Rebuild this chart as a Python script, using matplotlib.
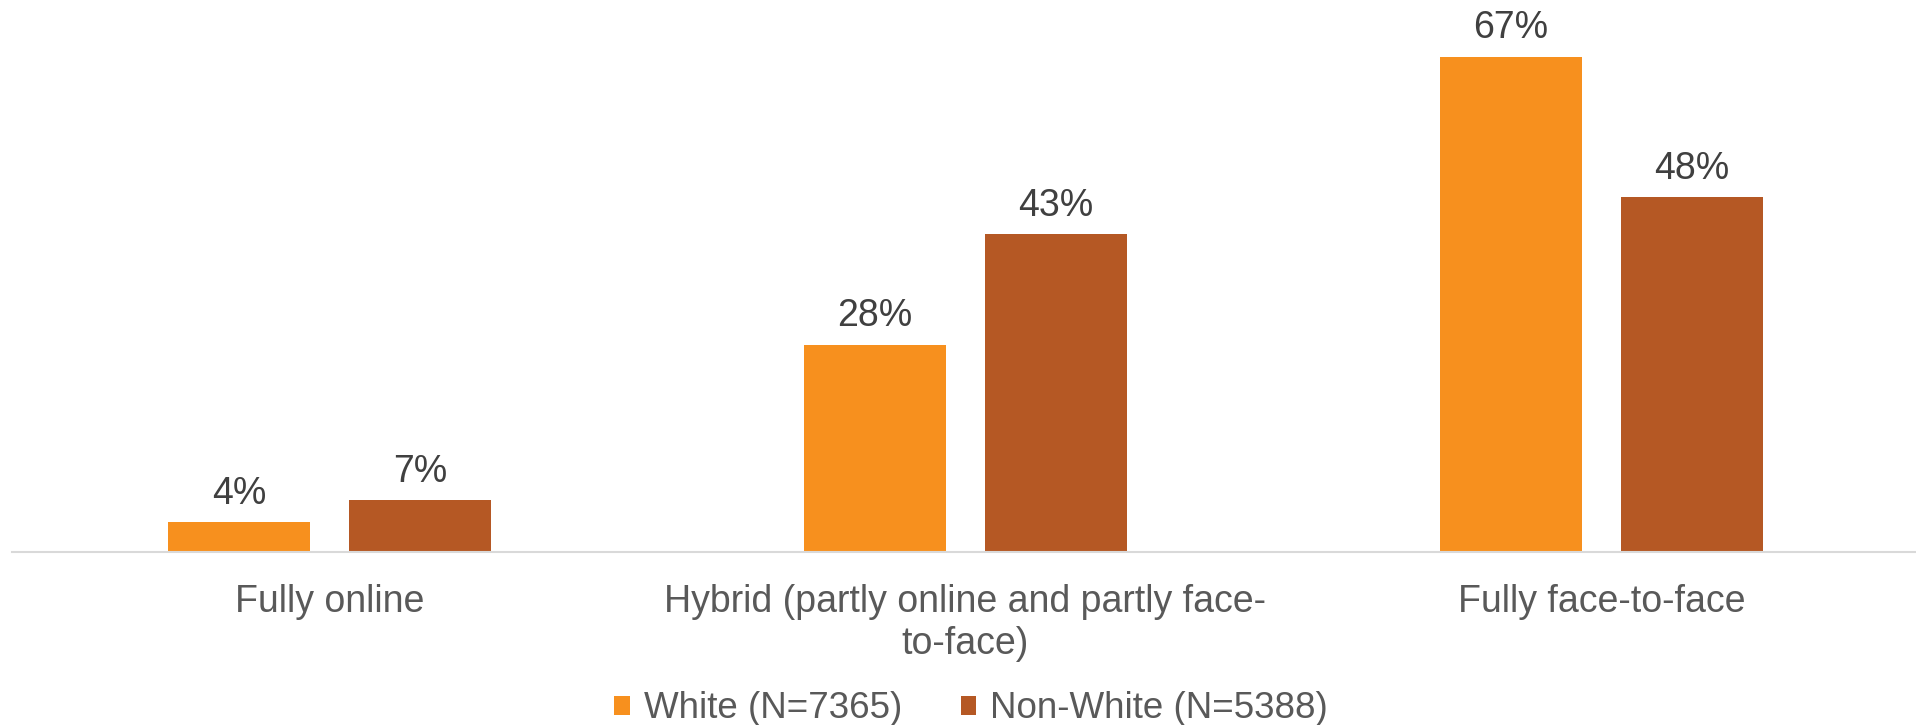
import numpy as np
import matplotlib.pyplot as plt

plt.rcParams['font.family'] = ['Liberation Sans', 'DejaVu Sans']

# data
categories = ["Fully online", "Hybrid (partly online and partly face-\nto-face)", "Fully face-to-face"]
series_names = ["White (N=7365)", "Non-White (N=5388)"]
white = [4, 28, 67]
non_white = [7, 43, 48]
colors = ["#F7901E", "#B55824"]

fig = plt.figure(figsize=(19.16, 7.25), dpi=100)
# axes: x from 11.5 to 1919.5 px, baseline at y=552, top at y=10
ax = fig.add_axes([11.5 / 1916, 1 - 552 / 725, 1908 / 1916, 542 / 725])

x = np.arange(len(categories))
w = 0.224
off = 0.1425
bars1 = ax.bar(x - off, white, w, color=colors[0], label=series_names[0])
bars2 = ax.bar(x + off, non_white, w, color=colors[1], label=series_names[1])

for bars, vals in [(bars1, white), (bars2, non_white)]:
    for b, v in zip(bars, vals):
        ax.text(b.get_x() + b.get_width() / 2, v + 2.5, "%d%%" % v,
                ha='center', va='baseline', fontsize=27, color='#404040')

ax.set_xlim(-0.5, 2.5)
ax.set_ylim(0, 73.3)
ax.set_yticks([])
ax.set_xticks(x)
ax.set_xticklabels(categories, fontsize=27, color='#595959', linespacing=1.2)
ax.tick_params(axis='x', length=0, pad=23)
for s in ['top', 'right', 'left']:
    ax.spines[s].set_visible(False)
ax.spines['bottom'].set_color('#D9D9D9')
ax.spines['bottom'].set_linewidth(1.5)

fig.legend(loc='center', bbox_to_anchor=(0.5 + 13 / 1916, 1 - 709 / 725), ncol=2, frameon=False,
           fontsize=26.5, handlelength=0.42, handleheight=0.42, handletextpad=0.38,
           columnspacing=1.6, labelcolor='#595959')

fig.savefig("out.png", dpi=100)
